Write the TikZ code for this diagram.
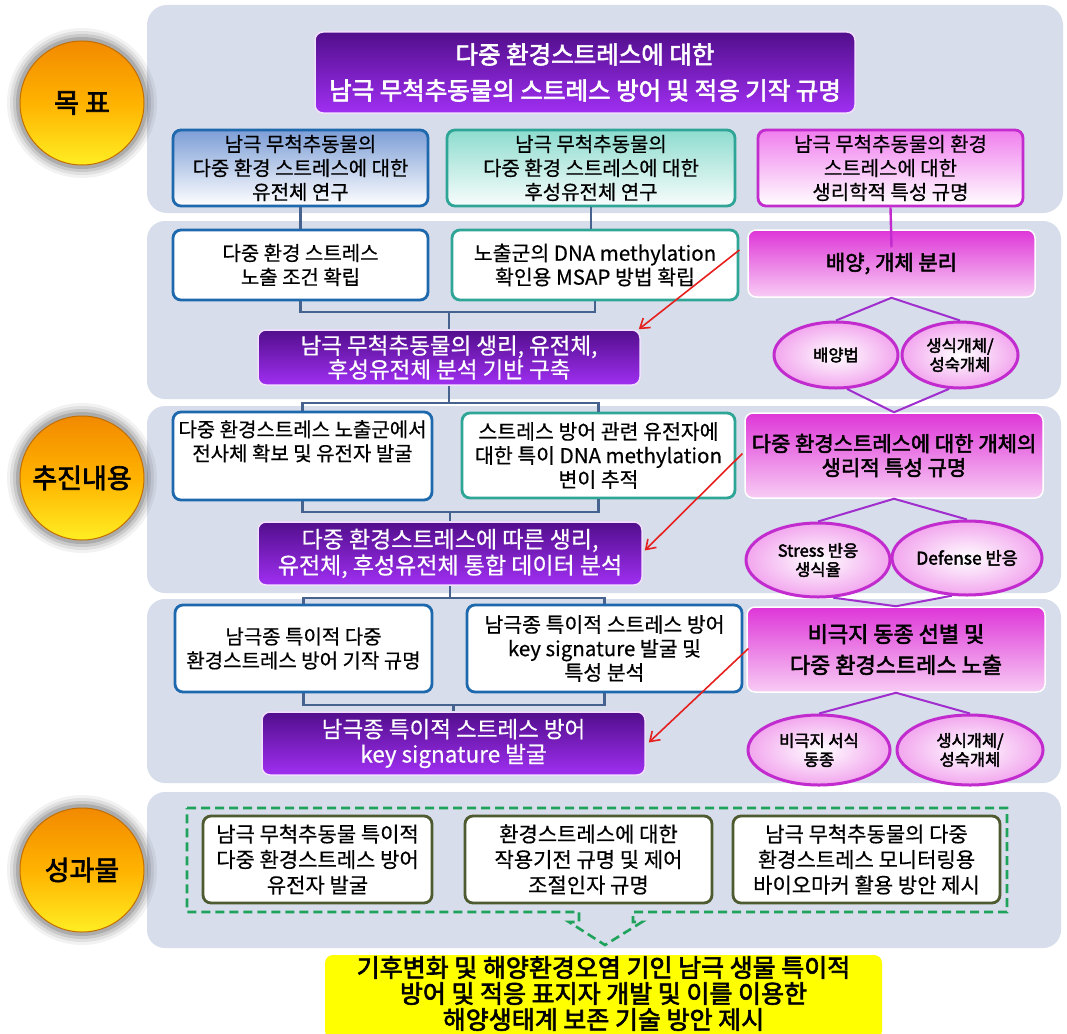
\documentclass[tikz,border=0pt]{standalone}
\usepackage{fontspec}
\setmainfont{Noto Sans CJK KR}[AutoFakeBold=2.5,FakeBold=0.5]
\usetikzlibrary{arrows.meta,shapes.geometric}
\definecolor{panelbg}{HTML}{D7DDEA}
\definecolor{bluebd}{HTML}{1E68AE}
\definecolor{tealbd}{HTML}{2FA597}
\definecolor{magbd}{HTML}{C22CCF}
\definecolor{olivebd}{HTML}{4E5A30}
\definecolor{connc}{HTML}{46638F}
\definecolor{tric}{HTML}{A02ECF}
\definecolor{redc}{HTML}{E5201E}
\definecolor{greenc}{HTML}{1FA35C}
\definecolor{purpA}{HTML}{520E8C}
\definecolor{purpB}{HTML}{A02FF2}
\definecolor{pinkA}{HTML}{DE36D8}
\definecolor{pinkB}{HTML}{F8CCF4}
\definecolor{ellout}{HTML}{F2A6EE}
\definecolor{blueA}{HTML}{7D9ED6}
\definecolor{tealA}{HTML}{8EDCCF}
\definecolor{magA}{HTML}{F07EEE}
\definecolor{orA}{HTML}{F28A00}
\definecolor{orB}{HTML}{FFEE22}
\definecolor{yel}{HTML}{FFFF00}
\begin{document}
\begin{tikzpicture}[x=1pt,y=-1pt,
  txt/.style={align=center,inner sep=0pt,font=\fontsize{20}{24}\selectfont},
  boxbase/.style={txt,rounded corners=8pt,line width=2.8pt},
  gradblue/.style={boxbase,draw=bluebd,top color=blueA,bottom color=white},
  gradteal/.style={boxbase,draw=tealbd,top color=tealA,bottom color=white!94!tealA},
  gradmag/.style={boxbase,draw=magbd,top color=magA,bottom color=white},
  whiteblue/.style={boxbase,draw=bluebd,fill=white},
  whiteteal/.style={boxbase,draw=tealbd,fill=white},
  pinkbox/.style={boxbase,draw=white,line width=1.5pt,top color=pinkA,bottom color=pinkB,font=\fontsize{21}{24}\selectfont\bfseries},
  purpbox/.style={boxbase,draw=white!85!purpB,line width=1.5pt,top color=purpA,bottom color=purpB,text=white,font=\fontsize{22.5}{22}\selectfont},
  ellbox/.style={ellipse,draw=magbd,line width=3pt,inner color=white,outer color=ellout,align=center,inner sep=0pt,font=\fontsize{16.5}{19}\selectfont\bfseries},
  olivebox/.style={boxbase,draw=olivebd,fill=white,font=\fontsize{21}{25.5}\selectfont},
  ball/.style={circle,minimum size=124pt,inner sep=0pt,draw=orA!80!black,line width=1pt,top color=orA,bottom color=orB,middle color=orange!60!yellow,font=\fontsize{27}{30}\selectfont\bfseries},
  conn/.style={draw=connc,line width=2.6pt},
  trline/.style={draw=tric,line width=2pt},
  redarrow/.style={draw=redc,line width=1.6pt,-{Straight Barb[length=9pt,width=12pt,line width=1.6pt]}},
  greendash/.style={draw=greenc,line width=2.6pt,dash pattern=on 9pt off 5pt}
]
\useasboundingbox[fill=white] (0,0) rectangle (1067,1033);

% panels
\fill[panelbg,rounded corners=20pt] (147,5) rectangle (1063,213);
\fill[panelbg,rounded corners=18pt] (147,221) rectangle (1061,399);
\fill[panelbg,rounded corners=18pt] (147,406) rectangle (1061,593);
\fill[panelbg,rounded corners=18pt] (147,599) rectangle (1061,783);
\fill[panelbg,rounded corners=18pt] (147,792) rectangle (1061,948);

% circles with glow
\foreach \cy in {103,478,870}{
  \foreach \r/\o in {75/0.05,72/0.07,69/0.1,66/0.14}{
    \fill[black,opacity=\o] (82,\cy) circle (\r);
  }
}
\node[ball] (c1) at (82,103) {목 표};
\node[ball] (c2) at (82,478) {추진내용};
\node[ball] (c3) at (82,870) {성과물};

% top
\node[purpbox,minimum width=540pt,minimum height=81pt,font=\fontsize{24.5}{36}\selectfont\bfseries] (top) at (585,72.5)
  {다중 환경스트레스에 대한\\남극 무척추동물의 스트레스 방어 및 적응 기작 규명};

% row 1
\node[gradblue,minimum width=255pt,minimum height=76pt] (g1) at (300.5,168)
  {남극 무척추동물의\\다중 환경 스트레스에 대한\\유전체 연구};
\node[gradteal,minimum width=288pt,minimum height=76pt] (g2) at (591,168)
  {남극 무척추동물의\\다중 환경 스트레스에 대한\\후성유전체 연구};
\node[gradmag,minimum width=265pt,minimum height=76pt] (g3) at (890.5,168)
  {남극 무척추동물의 환경\\스트레스에 대한\\생리학적 특성 규명};

% panel 2
\node[whiteblue,minimum width=255pt,minimum height=70pt] (r2a) at (300.5,265)
  {다중 환경 스트레스\\노출 조건 확립};
\node[whiteteal,minimum width=286pt,minimum height=70pt,font=\fontsize{20.5}{24}\selectfont] (r2b) at (595,265)
  {노출군의 DNA methylation\\확인용 MSAP 방법 확립};
\node[pinkbox,minimum width=287pt,minimum height=67pt] (r2c) at (891.5,263.5)
  {배양, 개체 분리};
\node[purpbox,minimum width=382pt,minimum height=55pt] (p2) at (449,357.5)
  {남극 무척추동물의 생리, 유전체,\\후성유전체 분석 기반 구축};
\node[ellbox,minimum width=124pt,minimum height=66pt] (e1) at (836,355) {배양법};
\node[ellbox,minimum width=116pt,minimum height=66pt] (e2) at (960,355) {생식개체/\\성숙개체};

% panel 3
\node[whiteblue,minimum width=259pt,minimum height=88pt] (r3a) at (302.5,456) {};
\node[txt,anchor=north] (r3at) at (302.5,420) {다중 환경스트레스 노출군에서\\전사체 확보 및 유전자 발굴};
\node[whiteteal,minimum width=273pt,minimum height=85pt,font=\fontsize{20.5}{24}\selectfont] (r3b) at (598.5,455.5)
  {스트레스 방어 관련 유전자에\\대한 특이 DNA methylation\\변이 추적};
\node[pinkbox,minimum width=298pt,minimum height=85pt] (r3c) at (894,455.5)
  {다중 환경스트레스에 대한 개체의\\생리적 특성 규명};
\node[purpbox,minimum width=384pt,minimum height=63pt,font=\fontsize{23}{26}\selectfont] (p3) at (450,553.5)
  {다중 환경스트레스에 따른 생리,\\유전체, 후성유전체 통합 데이터 분석};
\node[ellbox,minimum width=144pt,minimum height=74pt] (e3) at (818,560) {Stress 반응\\생식율};
\node[ellbox,minimum width=150pt,minimum height=74pt,font=\fontsize{17.5}{19}\selectfont\bfseries] (e4) at (967,558) {Defense 반응};

% panel 4
\node[whiteblue,minimum width=257pt,minimum height=87pt] (r4a) at (303.5,648.5)
  {남극종 특이적 다중\\환경스트레스 방어 기작 규명};
\node[whiteblue,minimum width=275pt,minimum height=87pt,font=\fontsize{20.5}{24}\selectfont] (r4b) at (604.5,648.5)
  {남극종 특이적 스트레스 방어\\key signature 발굴 및\\특성 분석};
\node[pinkbox,minimum width=298pt,minimum height=85pt,font=\fontsize{22}{31}\selectfont\bfseries] (r4c) at (896,649.5)
  {비극지 동종 선별 및\\다중 환경스트레스 노출};
\node[purpbox,minimum width=383pt,minimum height=63pt,font=\fontsize{22.5}{25}\selectfont] (p4) at (453.5,743.5)
  {남극종 특이적 스트레스 방어\\key signature 발굴};
\node[ellbox,minimum width=142pt,minimum height=70pt] (e5) at (819,750) {비극지 서식\\동종};
\node[ellbox,minimum width=146pt,minimum height=70pt] (e6) at (970,750) {생시개체/\\성숙개체};

% panel 5
\draw[greendash] (187,808) -- (1007,808) -- (1007,912) -- (633,912) -- (633,922) -- (642,922)
  -- (605,945) -- (569,922) -- (579,922) -- (579,912) -- (187,912) -- cycle;
\node[olivebox,minimum width=229pt,minimum height=87pt] (o1) at (317.5,859.5)
  {남극 무척추동물 특이적\\다중 환경스트레스 방어\\유전자 발굴};
\node[olivebox,minimum width=247pt,minimum height=87pt] (o2) at (588.5,859.5)
  {환경스트레스에 대한\\작용기전 규명 및 제어\\조절인자 규명};
\node[olivebox,minimum width=267pt,minimum height=87pt] (o3) at (866.5,859.5)
  {남극 무척추동물의 다중\\환경스트레스 모니터링용\\바이오마커 활용 방안 제시};
\node[fill=yel,rounded corners=8pt,minimum width=557pt,minimum height=84pt,inner sep=0pt] (res) at (603.5,997) {};
\node[txt,font=\fontsize{25}{26}\selectfont\bfseries] (rest) at (603.5,993.5)
  {기후변화 및 해양환경오염 기인 남극 생물 특이적\\방어 및 적응 표지자 개발 및 이를 이용한\\해양생태계 보존 기술 방안 제시};

% connectors
\draw[conn] (g1.south) -- (r2a.north);
\draw[conn] (g2.south) -- (g2.south |- r2b.north);
\draw[draw=magbd,line width=2.4pt] (g3.south) -- ([yshift=-18pt]r2c.north);

\coordinate (k2) at (449,312);
\draw[conn] (r2a.south) |- (k2) -| (r2b.south);
\draw[conn] (k2) -- (p2.north);
\coordinate (k3) at (449,403);
\draw[conn] (p2.south) -- (k3);
\draw[conn] (r3a.north) |- (k3) -| (r3b.north);
\coordinate (k4) at (450,512);
\draw[conn] (r3a.south) |- (k4) -| (r3b.south);
\draw[conn] (k4) -- (p3.north);
\coordinate (k5) at (450,598);
\draw[conn] (p3.south) -- (k5);
\draw[conn] (r4a.north) |- (k5) -| (r4b.north);
\coordinate (k6) at (453.5,705);
\draw[conn] (r4a.south) |- (k6) -| (r4b.south);
\draw[conn] (k6) -- (p4.north);

% triangles
\draw[trline] (e1.north) -- (r2c.south) -- (e2.north);
\draw[trline] (e1.-72) -- (r3c.north) -- (e2.-108);
\draw[trline] (e3.north) -- (r3c.south) -- (e4.north);
\draw[trline] (e3.-68) -- (r4c.north) -- (e4.-112);
\draw[trline] (e5.north) -- (r4c.south) -- (e6.north);

% red arrows
\draw[redarrow] ([yshift=15pt]r2b.east) -- ([xshift=-2pt]p2.north east);
\draw[redarrow] ([xshift=6pt,yshift=2pt]r3b.east) -- ([xshift=2pt,yshift=3pt]p3.east);
\draw[redarrow] ([xshift=5pt]r4b.east) -- ([xshift=3pt,yshift=1pt]p4.east);
\end{tikzpicture}
\end{document}
